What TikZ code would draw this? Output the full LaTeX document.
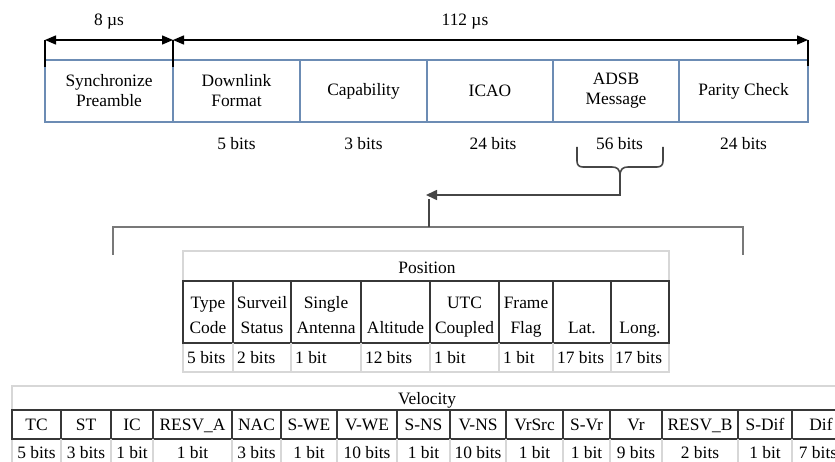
\documentclass[tikz,border=0pt]{standalone}
\usepackage{fontspec}
\setmainfont{Liberation Serif}
\newfontfamily\diagserif{Liberation Serif}
\usetikzlibrary{arrows.meta}
\definecolor{boxblue}{RGB}{108,140,180}
\definecolor{lightgrid}{RGB}{215,215,215}
\definecolor{darkgrid}{RGB}{55,55,55}
\definecolor{braceg}{RGB}{70,70,70}
\definecolor{bracketg}{RGB}{120,120,120}
\begin{document}
\begin{tikzpicture}[x=1pt,y=-1pt,
  txt/.style={font=\diagserif\fontsize{17.4}{20}\selectfont, text=black, inner sep=0pt},
  topbox/.style={txt, draw=boxblue, line width=1.3pt, minimum height=62pt, align=center},
  dimarrow/.style={line width=1.4pt, {Triangle[length=11pt,width=9pt]}-{Triangle[length=11pt,width=9pt]}},
  tick/.style={line width=1.4pt},
  bracestyle/.style={draw=braceg, line width=1.6pt},
  bracketstyle/.style={draw=bracketg, line width=2pt},
  cellhead/.style={txt, align=center, anchor=south, text depth=5pt, font=\diagserif\fontsize{17.4}{25}\selectfont},
  cellbits/.style={txt, anchor=base west},
  velcell/.style={txt, anchor=base},
  thin/.style={draw=lightgrid, line width=1.2pt},
  thick/.style={draw=darkgrid, line width=1.3pt}]
\useasboundingbox (0,0) rectangle (835,462);
\clip (0,0) rectangle (835,462);

% top frame boxes
\node[topbox, minimum width=128pt] (sync) at (109,91) {Synchronize\\Preamble};
\node[topbox, minimum width=127pt] (dl) at (236.5,91) {Downlink\\Format};
\node[topbox, minimum width=127pt] (cap) at (363.5,91) {Capability};
\node[topbox, minimum width=126pt] (icao) at (490,91) {ICAO};
\node[topbox, minimum width=126pt] (adsb) at (616,91) {ADSB\\Message};
\node[topbox, minimum width=129pt] (par) at (743.5,91) {Parity Check};

% timing dimension
\coordinate (t1a) at (45,40); \coordinate (t1b) at (45,67);
\coordinate (t2a) at (173,40); \coordinate (t2b) at (173,67);
\coordinate (t3a) at (808,40); \coordinate (t3b) at (808,66);
\draw[tick] (t1a) -- (t1b);
\draw[tick] (t2a) -- (t2b);
\draw[tick] (t3a) -- (t3b);
\draw[dimarrow] (t1a) -- (t2a);
\draw[dimarrow] (t2a) -- (t3a);
\node[txt, anchor=base] (d8) at (109,26) {8 µs};
\node[txt, anchor=base] (d112) at (465,26) {112 µs};

% bit counts
\node[txt, anchor=base] (b1) at (236.5,150) {5 bits};
\node[txt, anchor=base] (b2) at (363.5,150) {3 bits};
\node[txt, anchor=base] (b3) at (493,150) {24 bits};
\node[txt, anchor=base] (b4) at (619.5,150) {56 bits};
\node[txt, anchor=base] (b5) at (743.5,150) {24 bits};

% brace under 56 bits
\coordinate (brtip) at (620,176);
\draw[bracestyle] (577,147) -- (577,161) .. controls (577,165) and (579,167) .. (583,167) -- (612,167)
  .. controls (617,167) and (620,169) .. (brtip);
\draw[bracestyle] (663,147) -- (663,161) .. controls (663,165) and (661,167) .. (657,167) -- (628,167)
  .. controls (623,167) and (620,169) .. (brtip);
\coordinate (arrend) at (426,195);
\draw[bracestyle, -{Triangle[length=11pt,width=10pt]}] (brtip) |- (arrend);

% big bracket
\coordinate (bl) at (113,255);
\coordinate (br) at (743,255);
\coordinate (bj) at (429,227);
\draw[bracketstyle] (bl) -- (113,227) -- (743,227) -- (br);
\draw[bracestyle] (bj) -- (429,199);

% Position table
\draw[thin] (183,251) rectangle (669,372);
\draw[thick] (183,281) rectangle (669,343);
\foreach \x in {233,291,361,430,499,553,611} {
  \draw[thick] (\x,281) -- (\x,343);
  \draw[thin] (\x,343) -- (\x,372);
}
\node[txt, anchor=base] (poshead) at (427,273) {Position};
\foreach \cx/\t [count=\i] in {208/{Type\\Code}, 262/{Surveil\\Status}, 326/{Single\\Antenna},
   395.5/{Altitude}, 464.5/{UTC\\Coupled}, 526/{Frame\\Flag}, 582/{Lat.}, 640/{Long.}} {
  \node[cellhead] (pf\i) at (\cx,339) {\t};
}
\foreach \lx/\t [count=\i] in {187/5 bits, 237/2 bits, 295/1 bit, 365/12 bits, 434/1 bit,
   503/1 bit, 557/17 bits, 615/17 bits} {
  \node[cellbits] (pb\i) at (\lx,363) {\t};
}

% Velocity table
\draw[thin] (12,386) rectangle (850,470);
\draw[thick] (12,410) rectangle (850,439);
\foreach \x in {61,111,153,232,281,337,397,450,506,563,610,662,738,792} {
  \draw[thick] (\x,410) -- (\x,439);
  \draw[thin] (\x,439) -- (\x,470);
}
\node[txt, anchor=base] (velhead) at (427,404) {Velocity};
\foreach \cx/\t [count=\i] in {36.5/TC, 86/ST, 132/IC, 192.5/RESV\_A, 256.5/NAC, 309/S-WE,
   367/V-WE, 423.5/S-NS, 478/V-NS, 534.5/VrSrc, 586.5/S-Vr, 636/Vr, 700/RESV\_B, 765/S-Dif, 821/Dif} {
  \node[velcell] (vf\i) at (\cx,430) {\t};
}
\foreach \cx/\t [count=\i] in {36.5/5 bits, 86/3 bits, 132/1 bit, 192.5/1 bit, 256.5/3 bits, 309/1 bit,
   367/10 bits, 423.5/1 bit, 478/10 bits, 534.5/1 bit, 586.5/1 bit, 636/9 bits, 700/2 bits, 765/1 bit, 818/7 bits} {
  \node[velcell] (vb\i) at (\cx,458) {\t};
}
\end{tikzpicture}
\end{document}
